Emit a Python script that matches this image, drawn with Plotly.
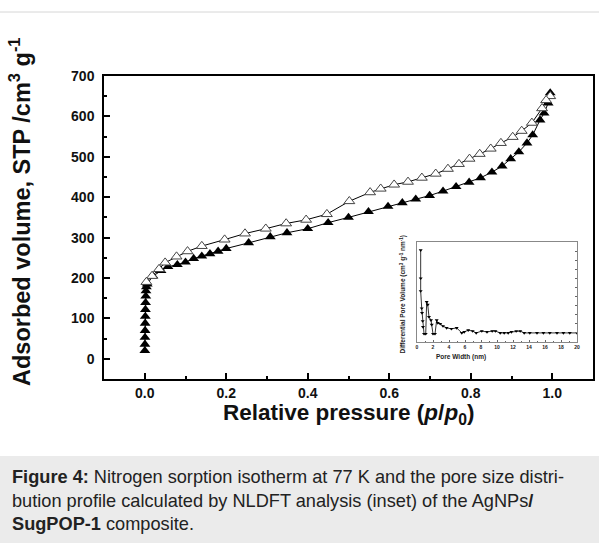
import plotly.graph_objects as go

# ---------------- data ----------------
ads_p = [0.0002, 0.0004, 0.0006, 0.0008, 0.001, 0.0013, 0.0016, 0.002, 0.0025, 0.003,
         0.004, 0.006, 0.02, 0.04, 0.057, 0.08, 0.1, 0.12, 0.14, 0.16, 0.18, 0.2,
         0.255, 0.308, 0.349, 0.4, 0.45, 0.5, 0.549, 0.597, 0.632, 0.665, 0.699,
         0.732, 0.764, 0.796, 0.824, 0.852, 0.877, 0.898, 0.918, 0.938, 0.952,
         0.97, 0.98, 0.99, 0.995]
ads_v = [20, 36, 53, 70, 88, 105, 122, 139, 155, 168,
         178, 185, 205, 218, 228, 233, 239, 248, 254, 260, 266, 273,
         287, 302, 312, 322, 337, 350, 364, 377, 386, 395, 404,
         415, 426, 437, 448, 462, 477, 495, 512, 534, 554,
         591, 608, 633, 658]

des_p = [0.995, 0.985, 0.975, 0.95, 0.925, 0.903, 0.874, 0.849, 0.822, 0.797,
         0.771, 0.744, 0.714, 0.68, 0.646, 0.612, 0.579, 0.553, 0.502, 0.447,
         0.396, 0.347, 0.297, 0.246, 0.196, 0.14, 0.105, 0.078, 0.05, 0.035,
         0.018, 0.004]
des_v = [650, 640, 620, 584, 564, 549, 534, 520, 507, 495,
         482, 470, 458, 448, 438, 431, 421, 412, 390, 358,
         344, 335, 322, 310, 295, 279, 266, 253, 238, 222,
         205, 190]

pore_w = [0.46, 0.46, 0.46, 0.59, 0.63, 0.71, 0.75, 0.88, 1.09, 1.21, 1.34, 1.5,
          1.75, 1.84, 2.0, 2.25, 2.46, 2.6, 2.9, 3.25, 3.7, 4.3, 4.96, 5.6, 5.9,
          6.4, 6.96, 7.4, 8.1, 8.75, 9.4, 9.8, 10.4, 10.9, 11.4, 11.8, 12.4, 12.9,
          13.4, 14.1, 15.0, 15.8, 16.6, 17.5, 18.3, 19.1, 20.0]
pore_dv = [1.01, 0.70, 0.56, 0.37, 0.32, 0.23, 0.165, 0.09, 0.09, 0.44, 0.41, 0.275,
           0.24, 0.19, 0.09, 0.09, 0.24, 0.21, 0.20, 0.175, 0.155, 0.145, 0.155, 0.10, 0.11,
           0.13, 0.12, 0.10, 0.12, 0.11, 0.12, 0.12, 0.10, 0.10, 0.10, 0.11, 0.12, 0.12,
           0.10, 0.10, 0.10, 0.10, 0.10, 0.10, 0.10, 0.10, 0.10]

x_ticks = [0.0, 0.2, 0.4, 0.6, 0.8, 1.0]
x_ticktext = ["0.0", "0.2", "0.4", "0.6", "0.8", "1.0"]
y_ticks = [0, 100, 200, 300, 400, 500, 600, 700]
inset_x_ticks = [0, 2, 4, 6, 8, 10, 12, 14, 16, 18, 20]

# ---------------- layout helpers ----------------
W, H = 599, 543
def px(x):
    return x / W
def py(y):
    return (H - y) / H

FONT = "Liberation Sans, Arial, sans-serif"

fig = go.Figure()
fig.add_trace(go.Scatter(
    x=ads_p, y=ads_v, mode="lines+markers",
    line=dict(color="black", width=1),
    marker=dict(symbol="triangle-up", size=9.5, color="black"),
    xaxis="x", yaxis="y", showlegend=False))
fig.add_trace(go.Scatter(
    x=des_p, y=des_v, mode="lines+markers",
    line=dict(color="black", width=1),
    marker=dict(symbol="triangle-up", size=9.5, color="white",
                line=dict(color="#444", width=1)),
    xaxis="x", yaxis="y", showlegend=False))
fig.add_trace(go.Scatter(
    x=pore_w, y=pore_dv, mode="lines+markers",
    line=dict(color="black", width=0.8),
    marker=dict(symbol="triangle-down", size=3.5, color="black"),
    xaxis="x2", yaxis="y2", showlegend=False))

fig.update_layout(
    width=W, height=H,
    margin=dict(l=0, r=0, t=0, b=0),
    paper_bgcolor="white", plot_bgcolor="rgba(0,0,0,0)",
    font=dict(family=FONT, color="black"),
    xaxis=dict(
        domain=[px(104), px(593)], range=[-0.1, 1.1], anchor="y",
        tickvals=x_ticks, ticktext=x_ticktext, ticks="inside", ticklen=6,
        tickwidth=1.5, tickcolor="black", ticklabelstandoff=0,
        minor=dict(ticks="inside", ticklen=3, tick0=0, dtick=0.1, tickcolor="black"),
        showline=True, linewidth=1.5, linecolor="black", mirror=True,
        showgrid=False, zeroline=False, automargin=False,
        tickfont=dict(size=14, family=FONT, weight="bold", color="#111")),
    yaxis=dict(
        domain=[py(379), py(76)], range=[-50, 700], anchor="x",
        tickvals=y_ticks, ticks="inside", ticklen=6, tickwidth=1.5, tickcolor="black",
        ticklabelstandoff=5,
        minor=dict(ticks="inside", ticklen=3, tick0=0, dtick=50, tickcolor="black"),
        showline=True, linewidth=1.5, linecolor="black", mirror=True,
        showgrid=False, zeroline=False, automargin=False,
        tickfont=dict(size=14, family=FONT, weight="bold", color="#111")),
    xaxis2=dict(
        domain=[px(417), px(577)], range=[0, 20], anchor="y2",
        tickvals=inset_x_ticks, ticks="inside", ticklen=2, tickwidth=0.6, tickcolor="#666",
        minor=dict(ticks="inside", ticklen=1, dtick=1, tickcolor="#666"),
        showline=True, linewidth=0.8, linecolor="#888", mirror=True,
        showgrid=False, zeroline=False, automargin=False,
        tickfont=dict(size=5, family=FONT, weight="bold", color="#222")),
    yaxis2=dict(
        domain=[py(342), py(242)], range=[0, 1.1], anchor="x2", side="right",
        dtick=0.1, ticks="inside", ticklen=2, tickwidth=0.6, tickcolor="#666",
        showticklabels=False,
        showline=True, linewidth=0.8, linecolor="#888", mirror=True,
        showgrid=False, zeroline=False, automargin=False),
    shapes=[
        dict(type="rect", xref="paper", yref="paper", x0=0, x1=1, y0=0, y1=py(456),
             fillcolor="#ebebeb", line=dict(width=0), layer="below"),
        dict(type="line", xref="paper", yref="paper", x0=0, x1=1, y0=py(12), y1=py(12),
             line=dict(color="#d6d6d6", width=1)),
    ],
    annotations=[
        dict(text="Adsorbed volume, STP /cm<sup>3</sup> g<sup>-1</sup>", textangle=-90,
             xref="paper", yref="paper", x=px(37), y=py(212), xanchor="right",
             showarrow=False,
             font=dict(size=23.5, family=FONT, weight="bold", color="#111")),
        dict(text="Relative pressure (<i>p</i>/<i>p</i><sub>0</sub>)",
             xref="paper", yref="paper", x=px(348), y=py(398), yanchor="top",
             showarrow=False,
             font=dict(size=22.5, family=FONT, weight="bold", color="#111")),
        dict(text="Differential Pore Volume (cm<sup>3</sup> g<sup>-1</sup> nm<sup>-1</sup>)",
             textangle=-90, xref="paper", yref="paper", x=px(409), y=py(294),
             showarrow=False, font=dict(size=6.5, family=FONT, weight="bold", color="#222")),
        dict(text="Pore Width (nm)", xref="paper", yref="paper", x=px(488), y=py(357),
             showarrow=False, font=dict(size=6.5, family=FONT, weight="bold", color="#222")),
        dict(text="<b>Figure 4:</b> Nitrogen sorption isotherm at 77 K and the pore size distri-",
             xref="paper", yref="paper", x=px(10), y=py(477), xanchor="left", yanchor="middle",
             showarrow=False, font=dict(size=18.2, family=FONT, color="#222")),
        dict(text="bution profile calculated by NLDFT analysis (inset) of the AgNPs<b>/</b>",
             xref="paper", yref="paper", x=px(10), y=py(500.5), xanchor="left", yanchor="middle",
             showarrow=False, font=dict(size=18.2, family=FONT, color="#222")),
        dict(text="<b>SugPOP-1</b> composite.",
             xref="paper", yref="paper", x=px(10), y=py(524), xanchor="left", yanchor="middle",
             showarrow=False, font=dict(size=18.2, family=FONT, color="#222")),
    ],
)

fig.write_html("out.html", config={"displayModeBar": False},
               post_script="document.body.style.margin='0px';")
